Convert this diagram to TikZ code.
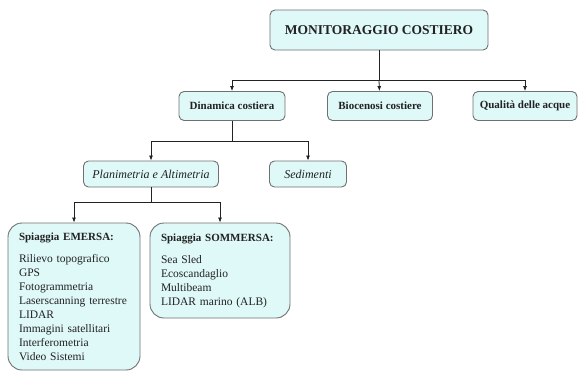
\documentclass[tikz,border=0pt]{standalone}
\usepackage{fontspec}
\setmainfont{Liberation Serif}
\usetikzlibrary{arrows.meta}
\definecolor{boxfill}{HTML}{DFF8F8}
\definecolor{boxline}{HTML}{707070}
\definecolor{inktext}{HTML}{222222}
\tikzset{
  box/.style={draw=boxline, fill=boxfill, line width=0.9pt, rounded corners=5pt,
    text=inktext, inner sep=0pt, font=\fontsize{11}{13}\selectfont\bfseries},
  listbox/.style={box, rounded corners=14pt, align=left, inner xsep=11pt,
    font=\fontsize{11.5}{14}\selectfont},
  wire/.style={draw=inktext, line width=0.8pt},
  arrow/.style={wire, -{Latex[length=5pt,width=4pt]}}
}
\newcommand{\listtitle}[1]{\mbox{\fontsize{11}{14}\selectfont\bfseries #1}}
\begin{document}
\begin{tikzpicture}[x=1pt, y=-1pt]
	\useasboundingbox (0,0) rectangle (580,370);
	
	\node[box, minimum width=218, minimum height=40, font=\fontsize{13.5}{15}\selectfont\bfseries] (1) at (379,30) {MONITORAGGIO COSTIERO};
	\node[box, minimum width=106, minimum height=29] (2) at (232,106) {Dinamica costiera};
	\node[box, minimum width=105, minimum height=29] (3) at (380,106) {Biocenosi costiere};
	\node[box, minimum width=104, minimum height=29] (4) at (525,106) {Qualità delle acque};
	\node[box, minimum width=135, minimum height=26, font=\fontsize{12}{13}\selectfont\itshape] (5) at (151,174) {Planimetria e Altimetria};
	\node[box, minimum width=77, minimum height=26, font=\fontsize{12}{13}\selectfont\itshape] (6) at (308,174) {Sedimenti};
	\node[listbox, text width=110, minimum height=147] (7) at (74,296.5) {\listtitle{Spiaggia EMERSA:}\\[8pt]
		Rilievo topografico\\ GPS\\ Fotogrammetria\\ Laserscanning terrestre\\ LIDAR\\
		Immagini satellitari\\ Interferometria\\ Video Sistemi};
	\node[listbox, text width=118, minimum height=95] (8) at (220,270.5) {\listtitle{Spiaggia SOMMERSA:}\\[8pt]
		Sea Sled\\ Ecoscandaglio\\ Multibeam\\ LIDAR marino (ALB)};
	
	\coordinate (b1) at (379,80);
	\coordinate (b2) at (232,141);
	\coordinate (b3) at (151,202);
	
	\path[wire] (1) edge (b1);
	\draw[arrow] (b1) -| (2);
	\draw[arrow] (b1) -- (3);
	\draw[arrow] (b1) -| (4);
	
	\path[wire] (2) edge (b2);
	\draw[arrow] (b2) -| (5);
	\draw[arrow] (b2) -| (6);
	
	\path[wire] (5) edge (b3);
	\draw[arrow] (b3) -| (7);
	\draw[arrow] (b3) -| (8);

\end{tikzpicture}
\end{document}
